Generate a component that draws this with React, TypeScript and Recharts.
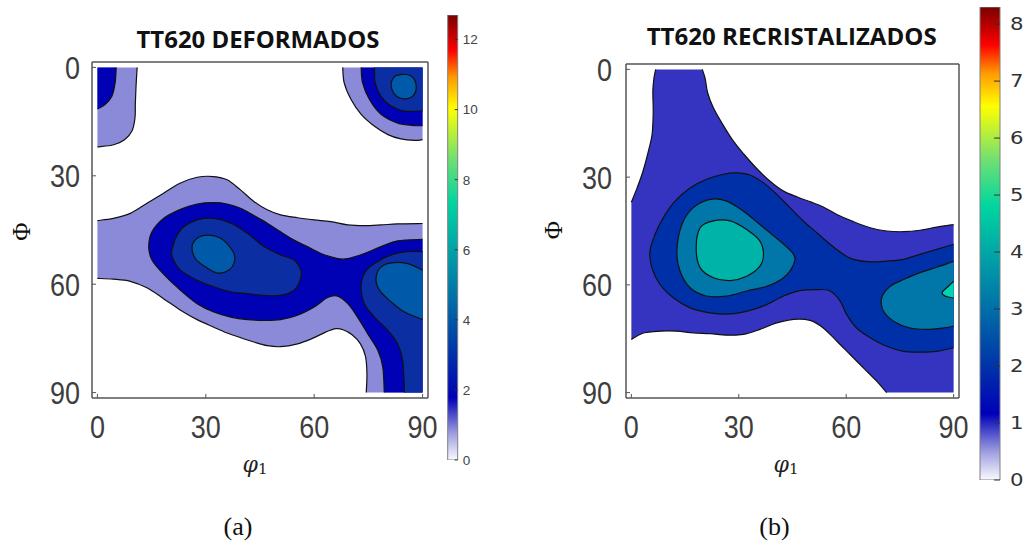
import React from "react";
import { ScatterChart, Scatter, XAxis, YAxis, BarChart, Bar } from "recharts";

type Pt = [number, number]; // [phi1, Phi] in degrees

// ---------- TT620 DEFORMADOS: iso-density lines ----------
const defTopLeft1: Pt[] = [[11, 0], [10.7, 5], [10.5, 10], [10.4, 14], [9.6, 17.5], [7.5, 20], [4.5, 21.4], [0, 22]];
const defTopLeft2: Pt[] = [[5.2, 0], [4.9, 4.3], [4, 8], [2.1, 10.3], [0, 11.5]];
const defTopRight1: Pt[] = [[67.9, 0], [68.3, 4.3], [70.2, 8.9], [73, 13], [76.7, 16.3], [80.4, 18.6], [84, 19.8], [87.8, 20.2], [90, 20]];
const defTopRight2: Pt[] = [[73, 0], [73.4, 4.3], [75.3, 8.9], [78.5, 13], [83.1, 15.4], [87.8, 16.1], [90, 16.1]];
const defTopRight3: Pt[] = [[76.7, 0], [76.9, 4.3], [78.5, 8], [81.3, 10.7], [85, 12.1], [90, 12]];
const defTopRight4: Pt[] = [[81.3, 5], [82.2, 2.6], [84.5, 1.9], [87, 2.5], [88.2, 4.8], [87.6, 7.6], [85.3, 8.7], [82.6, 7.8]];
const defBandUpper1: Pt[] = [
  [0, 42.4], [4.4, 41.8], [9.1, 40.4], [13.7, 37.6], [18.3, 34.8], [23, 32], [27.6, 30.4], [32.2, 30.2],
  [35.9, 31.1], [39.6, 33.9], [43.3, 37.1], [47, 39.4], [50.7, 40.8], [55.4, 41.6], [60, 42.2], [64.6, 42.7],
  [69.3, 43.6], [73.9, 43.8], [78.5, 43.6], [83.1, 43.3], [90, 43.2],
];
const defBandLower1: Pt[] = [
  [74.4, 90], [74.6, 85], [74.2, 80], [72.8, 76.5], [70.5, 74], [68, 72.6], [66, 72.3], [63.3, 73.2],
  [59.5, 75], [55.4, 76.5], [50.7, 77.3], [47, 77], [43.3, 76], [39.6, 74.8], [35.9, 73.5], [32.2, 71.9],
  [27.6, 69.8], [23, 67.2], [18.3, 64], [13.7, 61], [9.1, 59.2], [4.4, 58.6], [0, 58.4],
];
const defBody2: Pt[] = [
  [90, 47.6], [83.1, 48], [78.5, 49.6], [73.9, 51.5], [69.3, 52.9], [66.5, 52.9], [61.9, 51.5], [58.1, 49.6],
  [54.4, 47.8], [50.7, 45.5], [47, 43.1], [43.3, 41], [39.6, 39], [35.9, 37.8], [32.2, 37.4], [27.6, 37.8],
  [23, 39.3], [18.3, 41.8], [15.1, 45.5], [14.2, 49.6], [15.1, 53.3], [18.3, 57.2], [23, 61.7], [27.6, 65.4],
  [32.2, 67.7], [36.9, 69.1], [41.5, 69.8], [46.1, 70], [50.7, 69.8], [55.4, 68.6], [60, 66.3], [63.7, 63.7],
  [66.5, 63.3], [69.3, 65.4], [72, 69.1], [74.8, 73.7], [77.6, 78.3], [79, 83], [79.4, 90],
];
const defBlob3: Pt[] = [
  [20.6, 50.6], [23, 45], [27.6, 42.2], [32.2, 41.8], [36.9, 43.1], [41.5, 45.9], [46.1, 49.6], [50.7, 51.9],
  [54.4, 53.3], [56.3, 56.1], [56.1, 58.9], [54.4, 61.7], [50.7, 63.1], [46.1, 63.1], [41.5, 62.6], [36.9, 62.1],
  [32.2, 60.7], [27.6, 58.9], [23, 56.1], [21.1, 53.3],
];
const defLobe3: Pt[] = [[90, 51], [85.9, 51], [81.3, 51.9], [76.7, 54.3], [73.9, 57], [73, 60.7], [73.9, 65.4], [76.7, 69.1], [80.4, 72.8], [83.1, 76.5], [84.5, 81.1], [85, 90]];
const defBlob4: Pt[] = [[26.2, 49.6], [27.6, 47.3], [30.4, 46.4], [34.1, 47.3], [37.3, 50.6], [38, 53.3], [36.4, 56.1], [33.1, 56.9], [29.9, 55.2], [27.1, 52.9]];
const defLobe4: Pt[] = [[90, 56.1], [85.9, 54.3], [81.3, 54.1], [78.1, 55.6], [77.1, 58.9], [78.1, 61.7], [81.3, 64.9], [85, 67.7], [90, 69.8]];

// ---------- TT620 RECRISTALIZADOS: iso-density lines ----------
const recLeft1: Pt[] = [[6.8, 0], [6.3, 2.5], [6, 6], [6.1, 12], [5.8, 18], [4.7, 23], [3.2, 28.5], [1.6, 33], [0, 37]];
const recBottom1: Pt[] = [
  [0, 75.2], [3.4, 73.4], [8, 72.9], [12.7, 72.9], [17.3, 73.4], [22, 73.6], [26.6, 74], [31.3, 73.8],
  [35.9, 72.4], [40.6, 70.6], [45.3, 69.6], [49.9, 69.9], [53.6, 72], [57.4, 75.7], [61.1, 79.4], [64.8, 83.1],
  [68.5, 86.8], [71.3, 90],
];
const recTop1: Pt[] = [
  [90, 43.2], [85.3, 43.9], [80.6, 44.8], [76, 45.2], [71.3, 45], [66.7, 44.1], [62, 42.4], [57.4, 40.4],
  [53.6, 38.3], [50, 36.9], [46.5, 35.6], [42.5, 33.9], [38.9, 31.3], [35, 27.6], [31.5, 23.7], [28.5, 20],
  [25.5, 15.3], [22.9, 10.7], [21.3, 6.5], [20.6, 2.5], [19.8, 0],
];
const recBody2: Pt[] = [
  [90, 48.7], [85.3, 50.1], [80.6, 51.5], [76, 52.9], [71.3, 53.4], [66.7, 53.6], [62, 52.9], [59.2, 51.5],
  [55.5, 48.7], [51.8, 45.5], [48, 42.2], [44.3, 38.5], [40.6, 34.8], [36.9, 31.6], [33.1, 29.4], [29.4, 28.8],
  [25.7, 29.2], [21, 30.6], [16.4, 33], [12.2, 36.7], [8.9, 41.3], [6.6, 46], [5.2, 50.6], [5.7, 55.2],
  [8, 59.9], [11.7, 63.6], [16.4, 66.4], [22, 67.8], [27.6, 68.1], [33.1, 67.1], [37.8, 65.5], [42.5, 63.1],
  [47.1, 61.6], [51.8, 61.3], [55.5, 61.7], [58.3, 64.5], [60.1, 68.2], [62.9, 72], [66.7, 74.7], [71.3, 77.1],
  [76, 78.5], [80.6, 78.7], [85.3, 78.5], [90, 77.5],
];
const recBlob3: Pt[] = [
  [12.7, 50.6], [14.1, 43.2], [17.3, 38.5], [22, 36.2], [26.6, 36.7], [31.3, 39.5], [35.9, 43.2], [41.5, 47.8],
  [45.3, 51.5], [45.3, 54.3], [42.5, 58], [37.8, 60.4], [32.2, 61.7], [26.6, 63.1], [21, 63.1], [16.4, 60.8], [13.6, 56.2],
];
const recLobe3: Pt[] = [[90, 53.4], [85.3, 55.1], [80.6, 56.6], [76, 58.5], [72.3, 60.4], [69.9, 63.6], [70.4, 67.3], [73.2, 70.1], [77.8, 72], [82.5, 72.4], [87.2, 72], [90, 71.5]];
const recBlob4: Pt[] = [[18.1, 49.7], [19.2, 44.1], [22.9, 42.2], [27.6, 42.2], [32.2, 44.6], [35.9, 47.8], [36.9, 51.5], [35.9, 54.8], [32.2, 57.6], [27.6, 58.8], [22.9, 58], [19.2, 55.2]];
const recTip5: Pt[] = [[90, 59], [88.3, 60.6], [86.8, 62.1], [87.6, 63.1], [90, 63.7]];

// fill colour of each level
const defColors = ["#8a8ad8", "#0000b4", "#0b2fa3", "#0059a9"];
const recColors = ["#3434c0", "#0030a8", "#0077a8", "#00b3a9", "#00d3b3"];

// colour scale (fraction of max -> colour)
const jetStops = [0, 0.06, 0.14, 0.25, 0.36, 0.48, 0.58, 0.68, 0.79, 0.86, 0.92, 1];
const jetColors = ["#fafaff", "#9d9de0", "#0000b8", "#0038a8", "#006ea8", "#00a6a8", "#00d6a0", "#74e070", "#ffff00", "#ff9a00", "#ff0000", "#7a0000"];

const defScaleMax = 12.7;
const defScaleTicks = [0, 2, 4, 6, 8, 10, 12];
const recScaleMax = 8.3;
const recScaleTicks = [0, 1, 2, 3, 4, 5, 6, 7, 8];

const angleTicks = [0, 30, 60, 90];
const angleDomain: [number, number] = [-1.5, 91.5];

interface Region {
  level: number;
  pieces: Pt[][]; // single-point pieces are frame corners (not stroked)
  closed?: boolean;
}

const defRegions: Region[] = [
  { level: 0, pieces: [defTopLeft1, [[0, 0]]] },
  { level: 0, pieces: [defTopRight1, [[90, 0]]] },
  { level: 0, pieces: [defBandUpper1, [[90, 90]], defBandLower1] },
  { level: 1, pieces: [defTopLeft2, [[0, 0]]] },
  { level: 1, pieces: [defTopRight2, [[90, 0]]] },
  { level: 1, pieces: [defBody2, [[90, 90]]] },
  { level: 2, pieces: [defTopRight3, [[90, 0]]] },
  { level: 2, pieces: [defBlob3], closed: true },
  { level: 2, pieces: [defLobe3, [[90, 90]]] },
  { level: 3, pieces: [defTopRight4], closed: true },
  { level: 3, pieces: [defBlob4], closed: true },
  { level: 3, pieces: [defLobe4] },
];

const recRegions: Region[] = [
  { level: 0, pieces: [recLeft1, recBottom1, [[90, 90]], recTop1] },
  { level: 1, pieces: [recBody2] },
  { level: 2, pieces: [recBlob3], closed: true },
  { level: 2, pieces: [recLobe3] },
  { level: 3, pieces: [recBlob4], closed: true },
  { level: 4, pieces: [recTip5] },
];

type XY = { x: number; y: number };
const fmt = (p: XY) => `${p.x.toFixed(2)},${p.y.toFixed(2)}`;

// Catmull-Rom through the points, as cubic bezier segments
function spline(pp: XY[], closed: boolean): string {
  const n = pp.length;
  const at = (i: number) => (closed ? pp[(i + n) % n] : pp[Math.max(0, Math.min(n - 1, i))]);
  let d = "";
  const last = closed ? n : n - 1;
  for (let i = 0; i < last; i++) {
    const p0 = at(i - 1), p1 = at(i), p2 = at(i + 1), p3 = at(i + 2);
    const c1 = { x: p1.x + (p2.x - p0.x) / 6, y: p1.y + (p2.y - p0.y) / 6 };
    const c2 = { x: p2.x - (p3.x - p1.x) / 6, y: p2.y - (p3.y - p1.y) / 6 };
    d += `C${fmt(c1)} ${fmt(c2)} ${fmt(p2)}`;
  }
  return closed ? d + "Z" : d;
}

function ContourShape({ points, sizes, closed, color }: { points: XY[]; sizes: number[]; closed?: boolean; color: string }) {
  let area = "";
  let edge = "";
  let k = 0;
  sizes.forEach((n) => {
    const pp = points.slice(k, k + n);
    k += n;
    if (!pp.length) return;
    area += (area ? "L" : "M") + fmt(pp[0]);
    if (pp.length > 1) {
      const seg = spline(pp, !!closed);
      area += seg;
      edge += "M" + fmt(pp[0]) + seg;
    }
  });
  area += "Z";
  return (
    <g>
      <path d={area} fill={color} stroke="none" />
      <path d={edge} fill="none" stroke="#111" strokeWidth={1.2} strokeLinejoin="round" />
    </g>
  );
}

const noMarker = () => <g />;

const XTick = ({ x, y, payload }: any) => (
  <text transform={`translate(${x},${y}) scale(1,1.18)`} textAnchor="middle" dy="0.72em"
    fontFamily="'Liberation Sans', Arial, sans-serif" fontSize={27} fill="#3d3d3d">
    {payload.value}
  </text>
);

const YTick = ({ x, y, payload }: any) => (
  <text transform={`translate(${x},${y}) scale(1,1.18)`} textAnchor="end" dy="0.36em"
    fontFamily="'Liberation Sans', Arial, sans-serif" fontSize={27} fill="#3d3d3d">
    {payload.value}
  </text>
);

interface PanelProps {
  left: number;
  marginLeft: number;
  marginTop: number;
  yTickMargin: number;
  regions: Region[];
  colors: string[];
  title: string;
  titleX: number;
  titleY: number;
  titleWidth: number;
  phiX: number;
  phiY: number;
  phi1X: number;
  caption: string;
  captionX: number;
}

const frame = { stroke: "#555", strokeWidth: 1.5 };

function PolePanel(p: PanelProps) {
  const width = 440;
  const height = 548;
  return (
    <div style={{ position: "absolute", left: p.left, top: 0 }}>
      <ScatterChart width={width} height={height}
        margin={{ top: p.marginTop, left: p.marginLeft, right: width - p.marginLeft - 60 - (p.left ? 333 : 336) - 10, bottom: 90 }}>
        {p.regions.map((r, i) => {
          const sizes = r.pieces.map((pc) => pc.length);
          const data = r.pieces.flat().map(([x, y]) => ({ x, y }));
          return (
            <Scatter key={i} data={data} shape={noMarker} legendType="none" isAnimationActive={false}
              line={(lp: any) => <ContourShape points={lp.points} sizes={sizes} closed={r.closed} color={p.colors[r.level]} />} />
          );
        })}
        <XAxis type="number" dataKey="x" domain={angleDomain} allowDataOverflow ticks={angleTicks} interval={0}
          height={60} tickSize={-4} tickMargin={21} axisLine={frame} tickLine={{ stroke: "#555" }} tick={<XTick />} />
        <XAxis xAxisId="top" orientation="top" type="number" dataKey="x" domain={angleDomain} allowDataOverflow
          ticks={angleTicks} interval={0} height={10} tickSize={-4} axisLine={frame} tickLine={{ stroke: "#555" }} tick={false} />
        <YAxis type="number" dataKey="y" reversed domain={angleDomain} allowDataOverflow ticks={angleTicks} interval={0}
          width={60} tickSize={-4} tickMargin={p.yTickMargin} axisLine={frame} tickLine={{ stroke: "#555" }} tick={<YTick />} />
        <YAxis yAxisId="right" orientation="right" type="number" dataKey="y" reversed domain={angleDomain} allowDataOverflow
          ticks={angleTicks} interval={0} width={10} tickSize={-4} axisLine={frame} tickLine={{ stroke: "#555" }} tick={false} />
        <text x={p.titleX} y={p.titleY} textAnchor="middle" fontFamily="'Open Sans', sans-serif" fontWeight={700}
          fontSize={23} fill="#111" textLength={p.titleWidth} lengthAdjust="spacingAndGlyphs">
          {p.title}
        </text>
        <text transform={`translate(${p.phiX},${p.phiY}) rotate(-90)`} textAnchor="middle" dy="0.35em"
          fontFamily="'Liberation Serif', serif" fontSize={25} fill="#111">
          Φ
        </text>
        <text x={p.phi1X} y={472} textAnchor="middle" fontFamily="'DejaVu Serif', serif" fill="#222">
          <tspan fontSize={22} fontStyle="italic">φ</tspan>
          <tspan fontSize={15} dy={2}>1</tspan>
        </text>
        <text x={p.captionX} y={535} textAnchor="middle" fontFamily="'Liberation Serif', serif" fontSize={26} fill="#111">
          {p.caption}
        </text>
      </ScatterChart>
    </div>
  );
}

interface ScaleProps {
  id: string;
  left: number;
  width: number;
  height: number;
  margin: { top: number; right: number; bottom: number; left: number };
  axisWidth: number;
  max: number;
  ticks: number[];
  tickSize: number;
  tickMargin: number;
  tick: (props: any) => React.ReactElement;
}

function ColorScale(s: ScaleProps) {
  const data = [{ name: "scale", v: s.max }];
  return (
    <div style={{ position: "absolute", left: s.left, top: 0 }}>
      <BarChart width={s.width} height={s.height} data={data} margin={s.margin} barCategoryGap={0}>
        <defs>
          <linearGradient id={s.id} x1="0" y1="1" x2="0" y2="0">
            {jetStops.map((f, i) => (
              <stop key={i} offset={f} stopColor={jetColors[i]} />
            ))}
          </linearGradient>
        </defs>
        <XAxis dataKey="name" hide />
        <YAxis orientation="right" type="number" domain={[0, s.max]} allowDataOverflow ticks={s.ticks} interval={0}
          width={s.axisWidth} axisLine={false} tickSize={s.tickSize} tickMargin={s.tickMargin}
          tickLine={{ stroke: "#333" }} tick={s.tick} />
        <Bar dataKey="v" fill={`url(#${s.id})`} stroke="#808080" strokeWidth={1} isAnimationActive={false} />
      </BarChart>
    </div>
  );
}

const DefScaleTick = ({ x, y, payload }: any) => (
  <text x={x} y={y} dy="0.36em" textAnchor="start" fontFamily="'Liberation Sans', Arial, sans-serif" fontSize={13.5} fill="#444">
    {payload.value}
  </text>
);

const RecScaleTick = ({ x, y, payload }: any) => (
  <text transform={`translate(${x},${y}) scale(1.25,1)`} dy="0.36em" textAnchor="start"
    fontFamily="'DejaVu Sans', sans-serif" fontSize={17} fill="#333">
    {payload.value}
  </text>
);

export default function App() {
  return (
    <div style={{ position: "absolute", left: 0, top: 0, width: 1029, height: 548, background: "#fff", overflow: "hidden" }}>
      <PolePanel left={0} marginLeft={32} marginTop={52} yTickMargin={16} regions={defRegions} colors={defColors}
        title="TT620 DEFORMADOS" titleX={258} titleY={48} titleWidth={243} phiX={21.7} phiY={231.7} phi1X={255}
        caption="(a)" captionX={238} />
      <ColorScale id="scaleDef" left={440} width={50} height={475} margin={{ top: 15, right: 0, bottom: 15, left: 7.7 }}
        axisWidth={32.3} max={defScaleMax} ticks={defScaleTicks} tickSize={-3} tickMargin={8} tick={DefScaleTick} />
      <PolePanel left={530} marginLeft={36} marginTop={54} yTickMargin={18} regions={recRegions} colors={recColors}
        title="TT620 RECRISTALIZADOS" titleX={261.7} titleY={45} titleWidth={290} phiX={23.3} phiY={230} phi1X={256}
        caption="(b)" captionX={244.5} />
      <ColorScale id="scaleRec" left={970} width={59} height={490} margin={{ top: 7, right: 0, bottom: 10, left: 10 }}
        axisWidth={29} max={recScaleMax} ticks={recScaleTicks} tickSize={-6} tickMargin={16} tick={RecScaleTick} />
    </div>
  );
}
